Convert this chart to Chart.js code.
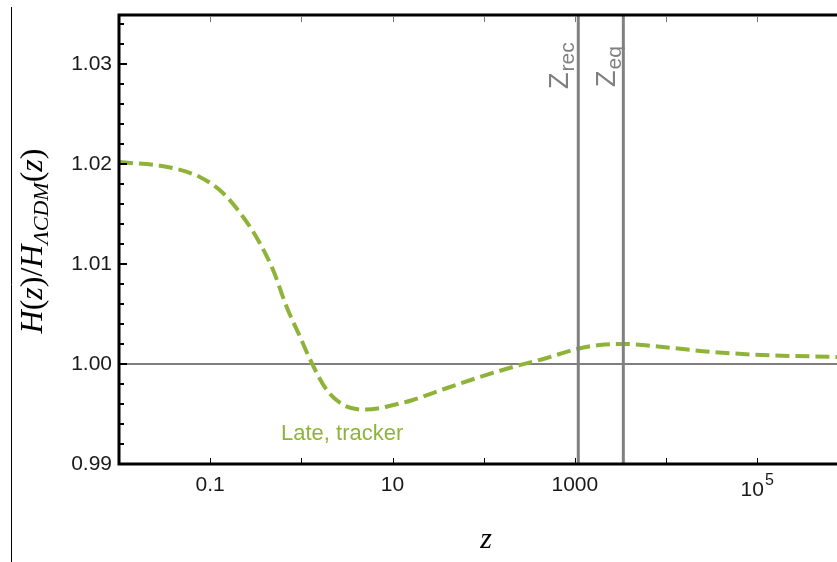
<html>

<head>
    <title>H(z) ratio</title>
    <script src="https://cdn.jsdelivr.net/npm/chart.js@4.4.0/dist/chart.umd.min.js"></script>
    <style>
        body { margin: 0; background: #fff; }
    </style>
</head>

<body>
    <canvas id="ratioChart" width="837" height="562"></canvas>
    <script>
        // curve (z, H/H_LCDM)
        var zValues = [0.01, 0.034, 0.077, 0.138, 0.23, 0.35, 0.49, 0.69, 0.97, 1.3, 1.9, 2.9, 4.7, 7.3, 12, 16.7, 39.5, 91, 209, 490, 1050, 1870, 3500, 9200, 32000, 115000, 750000];
        var ratioValues = [1.0202, 1.0197, 1.0187, 1.0171, 1.0147, 1.0121, 1.0094, 1.0057, 1.0027, 1.0001, 0.9974, 0.9959, 0.99545, 0.9956, 0.99605, 0.9964, 0.9976, 0.9987, 0.9997, 1.0006, 1.0015, 1.0019, 1.0020, 1.0017, 1.0012, 1.0009, 1.0007];
        var seriesLabel = "Late, tracker";

        var zRec = 1090;
        var zEq = 3400;

        var xMin = 0.01, xMax = 7.5e5;
        var yMin = 0.99, yMax = 1.0349;
        var xTickValues = [0.1, 10, 1000, 1e5];
        var yTickValues = [0.99, 1.00, 1.01, 1.02, 1.03];

        var green = "#8fb339";
        var grey = "#808080";

        var curve = zValues.map(function (z, i) { return { x: z, y: ratioValues[i] }; });

        function noPad(s) {
            s.paddingTop = 0;
            s.paddingBottom = 0;
            s.paddingLeft = 0;
            s.paddingRight = 0;
        }

        var framePlugin = {
            id: "frame",
            afterDraw: function (chart) {
                var ctx = chart.ctx;
                var a = chart.chartArea;
                var xs = chart.scales.x, ys = chart.scales.y;
                ctx.save();

                // outer thin rule on the left
                ctx.strokeStyle = "#000";
                ctx.lineWidth = 1;
                ctx.beginPath();
                ctx.moveTo(11.5, 7);
                ctx.lineTo(11.5, 562);
                ctx.stroke();

                // frame
                ctx.lineWidth = 3;
                ctx.beginPath();
                ctx.moveTo(a.left, a.top);
                ctx.lineTo(a.left, a.bottom);
                ctx.lineTo(a.right, a.bottom);
                ctx.moveTo(a.left - 1.5, a.top);
                ctx.lineTo(a.right, a.top);
                ctx.stroke();

                // y ticks, pointing inward
                ctx.lineWidth = 2;
                for (var k = 0; k <= 22; k++) {
                    var v = yMin + k * 0.002;
                    if (v > yMax) break;
                    var py = Math.round(ys.getPixelForValue(v));
                    var len = (k % 5 === 0) ? 8 : 5;
                    ctx.beginPath();
                    ctx.moveTo(a.left, py);
                    ctx.lineTo(a.left + len, py);
                    ctx.stroke();
                }

                // x ticks every decade
                ctx.lineWidth = 1;
                for (var d = -1; d <= 6; d++) {
                    var val = Math.pow(10, d);
                    if (val > xMax) break;
                    var px = Math.round(xs.getPixelForValue(val)) + 0.5;
                    ctx.strokeStyle = "#000";
                    ctx.beginPath();
                    ctx.moveTo(px, a.bottom - 1);
                    ctx.lineTo(px, a.bottom - 6);
                    ctx.stroke();
                    ctx.strokeStyle = "#777";
                    ctx.beginPath();
                    ctx.moveTo(px, a.top + 1);
                    ctx.lineTo(px, a.top + 7);
                    ctx.stroke();
                }

                // 10^5 label
                var p5 = xs.getPixelForValue(1e5);
                ctx.fillStyle = "#1a1a1a";
                ctx.textBaseline = "alphabetic";
                ctx.textAlign = "left";
                ctx.font = "21px 'Liberation Sans', Arial, sans-serif";
                var w10 = ctx.measureText("10").width;
                ctx.font = "16px 'Liberation Sans', Arial, sans-serif";
                var w5 = ctx.measureText("5").width;
                var x0 = p5 - (w10 + w5 + 1) / 2;
                ctx.font = "21px 'Liberation Sans', Arial, sans-serif";
                ctx.fillText("10", x0, 496);
                ctx.font = "16px 'Liberation Sans', Arial, sans-serif";
                ctx.fillText("5", x0 + w10 + 1, 485);

                // series label
                ctx.fillStyle = green;
                ctx.font = "22px 'Liberation Sans', Arial, sans-serif";
                ctx.fillText(seriesLabel, 281, 440);

                // z_rec / z_eq labels, rotated
                function markLabel(zv, sub, dx, bottomY) {
                    var lx = xs.getPixelForValue(zv);
                    ctx.save();
                    ctx.translate(lx + dx, bottomY);
                    ctx.rotate(-Math.PI / 2);
                    ctx.fillStyle = grey;
                    ctx.font = "27px 'Liberation Sans', Arial, sans-serif";
                    ctx.fillText("Z", 0, 0);
                    var wz = ctx.measureText("Z").width;
                    ctx.font = "21px 'Liberation Sans', Arial, sans-serif";
                    ctx.fillText(sub, wz + 1, 6);
                    ctx.restore();
                }
                markLabel(zRec, "rec", -10, 89);
                markLabel(zEq, "eq", -8, 87);

                // axis titles
                ctx.fillStyle = "#000";
                ctx.font = "italic 30px 'Liberation Serif', 'Times New Roman', serif";
                ctx.textAlign = "center";
                ctx.fillText("z", xs.getPixelForValue(Math.sqrt(xMin * xMax)) + 8, 548);

                ctx.save();
                ctx.translate(42, 241);
                ctx.rotate(-Math.PI / 2);
                ctx.textAlign = "left";
                var parts = [
                    ["H", "italic 32px", 0],
                    ["(", "32px", 0],
                    ["z", "italic 32px", 0],
                    [")", "32px", 0],
                    ["/", "32px", 0],
                    ["H", "italic 32px", 0],
                    ["ΛCDM", "italic 22px", 6],
                    ["(", "32px", 0],
                    ["z", "italic 32px", 0],
                    [")", "32px", 0]
                ];
                var fam = " 'Liberation Serif', 'Times New Roman', serif";
                var total = 0;
                parts.forEach(function (p) {
                    ctx.font = p[1] + fam;
                    total += ctx.measureText(p[0]).width;
                });
                var cx = -total / 2;
                parts.forEach(function (p) {
                    ctx.font = p[1] + fam;
                    ctx.fillText(p[0], cx, p[2]);
                    cx += ctx.measureText(p[0]).width;
                });
                ctx.restore();

                ctx.restore();
            }
        };

        var ctx1 = document.getElementById("ratioChart");
        var ratioChart = new Chart(ctx1, {
            type: "line",
            data: {
                datasets: [{
                    label: "z_rec",
                    data: [{ x: zRec, y: yMin }, { x: zRec, y: yMax }],
                    borderColor: grey,
                    borderWidth: 3,
                    pointRadius: 0
                }, {
                    label: "z_eq",
                    data: [{ x: zEq, y: yMin }, { x: zEq, y: yMax }],
                    borderColor: grey,
                    borderWidth: 3,
                    pointRadius: 0
                }, {
                    label: seriesLabel,
                    data: curve,
                    borderColor: green,
                    borderWidth: 4,
                    borderDash: [14, 6],
                    pointRadius: 0,
                    cubicInterpolationMode: "monotone"
                }, {
                    label: "unity",
                    data: [{ x: xMin, y: 1 }, { x: xMax, y: 1 }],
                    borderColor: "#000",
                    borderWidth: 1.2,
                    pointRadius: 0
                }]
            },
            options: {
                responsive: false,
                animation: false,
                layout: { padding: { top: 15, right: 0, left: 0, bottom: 0 } },
                plugins: {
                    legend: { display: false },
                    tooltip: { enabled: false }
                },
                scales: {
                    x: {
                        type: "logarithmic",
                        min: xMin,
                        max: xMax,
                        afterFit: function (s) { s.height = 98; noPad(s); },
                        afterBuildTicks: function (s) {
                            s.ticks = xTickValues.map(function (v) { return { value: v }; });
                        },
                        ticks: {
                            autoSkip: false,
                            maxRotation: 0,
                            padding: 9,
                            color: "#1a1a1a",
                            font: { family: "'Liberation Sans', Arial, sans-serif", size: 21 },
                            callback: function (v) {
                                if (v === 0.1) return "0.1";
                                if (v === 10) return "10";
                                if (v === 1000) return "1000";
                                return "";
                            }
                        },
                        grid: { display: false, drawTicks: false },
                        border: { display: false }
                    },
                    y: {
                        min: yMin,
                        max: yMax,
                        afterFit: function (s) { s.width = 119; noPad(s); },
                        afterBuildTicks: function (s) {
                            s.ticks = yTickValues.map(function (v) { return { value: v }; });
                        },
                        ticks: {
                            padding: 7,
                            color: "#1a1a1a",
                            font: { family: "'Liberation Sans', Arial, sans-serif", size: 21 },
                            callback: function (v) { return v.toFixed(2); }
                        },
                        grid: { display: false, drawTicks: false },
                        border: { display: false }
                    }
                }
            },
            plugins: [framePlugin]
        });
    </script>
</body>

</html>
